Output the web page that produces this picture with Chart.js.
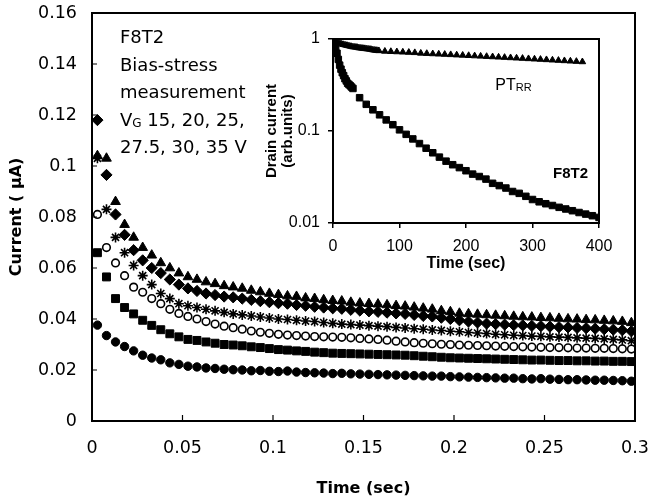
<!DOCTYPE html>
<html lang="en">
  <head>
    <meta charset="utf-8" />
    <title>F8T2 bias-stress measurement</title>
    <style>
      * {
        margin: 0;
        padding: 0;
      }
      body {
        background: #fff;
        width: 650px;
        height: 501px;
        overflow: hidden;
      }
      .wrap {
        position: relative;
        width: 650px;
        height: 501px;
      }
      #mainChart {
        position: absolute;
        left: 0;
        top: 0;
      }
      #insetChart {
        position: absolute;
        left: 250px;
        top: 20px;
      }
    </style>
  </head>
  <body>
    <div class="wrap">
      <canvas id="mainChart" width="650" height="501"></canvas>
      <canvas id="insetChart" width="380" height="260"></canvas>
    </div>

    <script src="https://cdn.jsdelivr.net/npm/chart.js"></script>

    <script>
      // main plot: time axis (sec)
      const times = [
        0.003, 0.008, 0.013, 0.018, 0.023, 0.028, 0.033, 0.038, 0.043, 0.048,
        0.053, 0.058, 0.063, 0.068, 0.073, 0.078, 0.083, 0.088, 0.093, 0.098,
        0.103, 0.108, 0.113, 0.118, 0.123, 0.128, 0.133, 0.138, 0.143, 0.148,
        0.153, 0.158, 0.163, 0.168, 0.173, 0.178, 0.183, 0.188, 0.193, 0.198,
        0.203, 0.208, 0.213, 0.218, 0.223, 0.228, 0.233, 0.238, 0.243, 0.248,
        0.253, 0.258, 0.263, 0.268, 0.273, 0.278, 0.283, 0.288, 0.293, 0.298,
      ];

      // current (uA) for each gate voltage
      const vg15 = [
        0.0376, 0.0335, 0.031, 0.0292, 0.0275, 0.0258, 0.0247, 0.024, 0.0228, 0.0222,
        0.0215, 0.0212, 0.0208, 0.0206, 0.0203, 0.0201, 0.02, 0.0197, 0.0198, 0.0195,
        0.0194, 0.0196, 0.0192, 0.019, 0.0189, 0.0188, 0.0186, 0.0187, 0.0185, 0.0184,
        0.0183, 0.0182, 0.0181, 0.018, 0.0179, 0.0178, 0.0177, 0.0176, 0.0176, 0.0174,
        0.0173, 0.0172, 0.0171, 0.017, 0.0169, 0.0168, 0.0168, 0.0166, 0.0165, 0.0166,
        0.0164, 0.0163, 0.0162, 0.0162, 0.0161, 0.016, 0.016, 0.0159, 0.0158, 0.0156,
      ];
      const vg20 = [
        0.066, 0.0565, 0.048, 0.0445, 0.042, 0.0395, 0.0375, 0.0358, 0.0342, 0.033,
        0.032, 0.0316, 0.031, 0.0305, 0.03, 0.0298, 0.0295, 0.0291, 0.0288, 0.0284,
        0.028, 0.0278, 0.0275, 0.0273, 0.027, 0.0268, 0.0266, 0.0265, 0.0264, 0.0263,
        0.0262, 0.0261, 0.026, 0.0259, 0.0258, 0.0256, 0.0254, 0.0252, 0.025, 0.0248,
        0.0247, 0.0246, 0.0245, 0.0244, 0.0243, 0.0242, 0.0241, 0.024, 0.0239, 0.0239,
        0.0238, 0.0237, 0.0237, 0.0236, 0.0236, 0.0235, 0.0235, 0.0234, 0.0234, 0.0233,
      ];
      const vg25 = [
        0.081, 0.068, 0.062, 0.057, 0.0525, 0.0505, 0.048, 0.046, 0.0438, 0.0422,
        0.041, 0.04, 0.039, 0.038, 0.0372, 0.0366, 0.036, 0.0353, 0.0348, 0.0344,
        0.034, 0.0337, 0.0335, 0.0333, 0.0331, 0.033, 0.0329, 0.0328, 0.0326, 0.0324,
        0.0322, 0.032, 0.0317, 0.0313, 0.031, 0.0307, 0.0305, 0.0303, 0.0301, 0.03,
        0.0298, 0.0297, 0.0296, 0.0295, 0.0294, 0.0293, 0.0292, 0.0291, 0.029, 0.0289,
        0.0288, 0.0288, 0.0287, 0.0286, 0.0286, 0.0285, 0.0285, 0.0284, 0.0283, 0.0282,
      ];
      const vg275 = [
        0.103, 0.083, 0.072, 0.066, 0.061, 0.057, 0.0535, 0.05, 0.048, 0.046,
        0.0452, 0.0445, 0.0438, 0.0432, 0.0426, 0.042, 0.0416, 0.0412, 0.0408, 0.0404,
        0.04, 0.0398, 0.0395, 0.0392, 0.039, 0.0386, 0.0383, 0.038, 0.0378, 0.0376,
        0.0374, 0.0372, 0.037, 0.0367, 0.0365, 0.0362, 0.036, 0.0357, 0.0355, 0.0352,
        0.035, 0.0347, 0.0345, 0.0343, 0.034, 0.0338, 0.0336, 0.0335, 0.0333, 0.0332,
        0.033, 0.0329, 0.0328, 0.0326, 0.0325, 0.0324, 0.0322, 0.032, 0.0318, 0.0315,
      ];
      const vg30 = [
        0.118, 0.0965, 0.081, 0.073, 0.067, 0.063, 0.06, 0.058, 0.0555, 0.0535,
        0.052, 0.051, 0.05, 0.0494, 0.0488, 0.0485, 0.048, 0.0475, 0.047, 0.0466,
        0.0462, 0.046, 0.0455, 0.0452, 0.0448, 0.0445, 0.0442, 0.044, 0.0436, 0.0433,
        0.043, 0.0428, 0.0425, 0.0422, 0.042, 0.0416, 0.0412, 0.041, 0.0405, 0.04,
        0.0395, 0.039, 0.0386, 0.0382, 0.038, 0.0378, 0.0376, 0.0375, 0.0373, 0.0372,
        0.037, 0.0368, 0.0367, 0.0365, 0.0364, 0.0362, 0.036, 0.0358, 0.0356, 0.0352,
      ];
      const vg35 = [
        0.104, 0.103, 0.086, 0.077, 0.072, 0.068, 0.065, 0.062, 0.06, 0.058,
        0.0565, 0.0555, 0.0545, 0.0538, 0.053, 0.0525, 0.052, 0.0512, 0.0506, 0.05,
        0.0495, 0.049, 0.0488, 0.0482, 0.048, 0.0475, 0.0472, 0.047, 0.0465, 0.0462,
        0.046, 0.0458, 0.0455, 0.0452, 0.045, 0.0446, 0.0442, 0.0438, 0.0432, 0.0428,
        0.0422, 0.042, 0.0418, 0.0416, 0.0414, 0.0412, 0.041, 0.0408, 0.0407, 0.0405,
        0.0404, 0.0402, 0.04, 0.0399, 0.0397, 0.0396, 0.0394, 0.0392, 0.039, 0.0385,
      ];

      const xTickVals = [0, 0.05, 0.1, 0.15, 0.2, 0.25, 0.3];
      const xTickLabels = ["0", "0.05", "0.1", "0.15", "0.2", "0.25", "0.3"];
      const yTickVals = [0, 0.02, 0.04, 0.06, 0.08, 0.1, 0.12, 0.14, 0.16];
      const yTickLabels = ["0", "0.02", "0.04", "0.06", "0.08", "0.1", "0.12", "0.14", "0.16"];

      // inset: normalised drain current vs time (sec)
      const f8t2Times = [
        0, 2, 4, 6, 8, 10, 12, 14, 16, 18, 20, 22, 24, 26, 28, 30,
        40, 50, 60, 70, 80, 90, 100, 110, 120, 130, 140, 150, 160, 170, 180, 190, 200,
        210, 220, 230, 240, 250, 260, 270, 280, 290, 300, 310, 320, 330, 340, 350, 360,
        370, 380, 390, 400,
      ];
      const f8t2Vals = [
        1.0, 0.88, 0.78, 0.7, 0.6, 0.52, 0.47, 0.43, 0.4, 0.37, 0.35, 0.33, 0.32, 0.31, 0.3, 0.29,
        0.23, 0.195, 0.17, 0.15, 0.132, 0.117, 0.103, 0.092, 0.082, 0.073, 0.065, 0.058, 0.052, 0.047, 0.043, 0.04, 0.037,
        0.034, 0.032, 0.03, 0.027, 0.0255, 0.024, 0.022, 0.021, 0.0195, 0.018, 0.017, 0.0162, 0.0155, 0.0148, 0.0142, 0.0136,
        0.013, 0.0125, 0.012, 0.0115,
      ];
      const ptTimes = [
        0, 3, 6, 9, 12, 15, 18, 21, 24, 27, 30, 33, 36, 39, 42, 45, 48, 51, 54, 57, 60, 63, 66, 69,
        78, 87, 96, 105, 114, 123, 132, 141, 150, 159, 168, 177, 186, 195, 204, 213, 222, 231,
        240, 249, 258, 267, 276, 285, 294, 303, 312, 321, 330, 339, 348, 357, 366, 375,
      ];
      const ptVals = [
        1.0, 0.95, 0.92, 0.9, 0.885, 0.87, 0.86, 0.85, 0.84, 0.83, 0.82, 0.815, 0.81, 0.8, 0.795, 0.79,
        0.785, 0.78, 0.775, 0.77, 0.76, 0.755, 0.75, 0.745,
        0.735, 0.73, 0.725, 0.72, 0.715, 0.71, 0.7, 0.695, 0.69, 0.685, 0.68, 0.675, 0.67, 0.665, 0.66, 0.655, 0.65, 0.645,
        0.64, 0.635, 0.63, 0.625, 0.62, 0.615, 0.61, 0.605, 0.6, 0.595, 0.59, 0.585, 0.58, 0.575, 0.57, 0.565,
      ];
      const insetXTickVals = [0, 100, 200, 300, 400];
      const insetXTickLabels = ["0", "100", "200", "300", "400"];
      const insetYTickVals = [0.01, 0.1, 1];
      const insetYTickLabels = ["0.01", "0.1", "1"];

      Chart.defaults.color = "#000";
      Chart.defaults.font.family = "'DejaVu Sans', sans-serif";

      const toPoints = (xs, ys) => xs.map((x, i) => ({ x, y: ys[i] }));

      // keep the plot box where layout.padding puts it
      const noLabelPadding = (scale) => {
        scale.paddingLeft = 0;
        scale.paddingRight = 0;
        scale.paddingTop = 0;
        scale.paddingBottom = 0;
      };

      // marker for each series
      const markers = [
        { values: vg15, pointStyle: "circle", radius: 4.2, fill: "#000", border: 1 },
        { values: vg20, pointStyle: "rect", radius: 5.6, fill: "#000", border: 1 },
        { values: vg25, pointStyle: "circle", radius: 3.8, fill: "#fff", border: 1.6 },
        { values: vg275, pointStyle: "star", radius: 5, fill: "#000", border: 1.6 },
        { values: vg30, pointStyle: "rectRot", radius: 5.6, fill: "#000", border: 1 },
        { values: vg35, pointStyle: "triangle", radius: 5.6, fill: "#000", border: 1 },
      ];

      // frame, inward ticks and the text block
      const mainFrame = {
        id: "mainFrame",
        afterDatasetsDraw(chart) {
          const {
            ctx,
            chartArea: { left, right, top, bottom },
            scales: { x, y },
          } = chart;
          ctx.save();
          ctx.strokeStyle = "#000";
          ctx.lineWidth = 2;
          ctx.strokeRect(left, top, right - left, bottom - top);
          ctx.lineWidth = 1.2;
          ctx.beginPath();
          yTickVals.forEach((v) => {
            const py = y.getPixelForValue(v);
            ctx.moveTo(left, py);
            ctx.lineTo(left + 5, py);
          });
          xTickVals.forEach((v) => {
            const px = x.getPixelForValue(v);
            ctx.moveTo(px, bottom);
            ctx.lineTo(px, bottom - 6);
          });
          ctx.stroke();

          ctx.fillStyle = "#000";
          ctx.textBaseline = "alphabetic";
          ctx.textAlign = "left";
          const big = "18px 'DejaVu Sans'";
          const tx = left + 28;
          ctx.font = big;
          ctx.fillText("F8T2", tx, top + 30);
          ctx.fillText("Bias-stress", tx, top + 57.5);
          ctx.fillText("measurement", tx, top + 85);
          ctx.fillText("V", tx, top + 112.5);
          let w = ctx.measureText("V").width;
          ctx.font = "12px 'DejaVu Sans'";
          ctx.fillText("G", tx + w, top + 113.5);
          w += ctx.measureText("G").width;
          ctx.font = big;
          ctx.fillText(" 15, 20, 25,", tx + w, top + 112.5);
          ctx.fillText("27.5, 30, 35 V", tx, top + 140);
          ctx.restore();
        },
      };

      const mainConfig = {
        type: "scatter",
        data: {
          datasets: markers.map((m) => ({
            data: toPoints(times, m.values),
            pointStyle: m.pointStyle,
            pointRadius: m.radius,
            backgroundColor: m.fill,
            borderColor: "#000",
            pointBorderWidth: m.border,
          })),
        },
        options: {
          responsive: false,
          animation: false,
          events: [],
          layout: { padding: { left: 0, top: 13, right: 15, bottom: 0 } },
          plugins: { legend: { display: false }, tooltip: { enabled: false } },
          scales: {
            x: {
              type: "linear",
              min: 0,
              max: 0.3,
              afterBuildTicks: (scale) => {
                scale.ticks = xTickVals.map((v) => ({ value: v }));
              },
              afterFit: (scale) => {
                scale.height = 80;
                noLabelPadding(scale);
              },
              grid: { display: false, drawTicks: false },
              border: { display: false },
              ticks: {
                autoSkip: false,
                maxRotation: 0,
                padding: 17,
                font: { size: 17.5 },
                callback: (v, i) => xTickLabels[i],
              },
              title: {
                display: true,
                text: "Time (sec)",
                font: { size: 16, weight: "bold" },
                padding: { top: 0, bottom: 3 },
              },
            },
            y: {
              type: "linear",
              min: 0,
              max: 0.16,
              afterBuildTicks: (scale) => {
                scale.ticks = yTickVals.map((v) => ({ value: v }));
              },
              afterFit: (scale) => {
                scale.width = 92;
                noLabelPadding(scale);
              },
              grid: { display: false, drawTicks: false },
              border: { display: false },
              ticks: {
                autoSkip: false,
                padding: 15,
                font: { size: 17.5 },
                callback: (v, i) => yTickLabels[i],
              },
              title: {
                display: true,
                text: "Current ( \u03bcA)",
                font: { size: 16, weight: "bold" },
                padding: { top: 7, bottom: 0 },
              },
            },
          },
        },
        plugins: [mainFrame],
      };

      new Chart(document.getElementById("mainChart"), mainConfig);

      // inset frame and curve labels
      const insetFrame = {
        id: "insetFrame",
        afterDatasetsDraw(chart) {
          const {
            ctx,
            chartArea: { left, right, top, bottom },
            scales: { x, y },
          } = chart;
          ctx.save();
          ctx.strokeStyle = "#000";
          ctx.lineWidth = 2;
          ctx.strokeRect(left, top, right - left, bottom - top);
          ctx.fillStyle = "#000";
          ctx.textAlign = "left";
          ctx.textBaseline = "alphabetic";
          const px = x.getPixelForValue(244);
          const py = y.getPixelForValue(0.28);
          ctx.font = "16px 'Liberation Sans'";
          ctx.fillText("PT", px, py);
          const w = ctx.measureText("PT").width;
          ctx.font = "11px 'Liberation Sans'";
          ctx.fillText("RR", px + w, py + 1);
          ctx.font = "bold 15px 'Liberation Sans'";
          ctx.fillText("F8T2", x.getPixelForValue(331), y.getPixelForValue(0.031));
          ctx.restore();
        },
      };

      const insetFont = "'Liberation Sans', Arial, sans-serif";
      const insetConfig = {
        type: "scatter",
        data: {
          datasets: [
            {
              data: toPoints(ptTimes, ptVals),
              pointStyle: "triangle",
              pointRadius: 3.8,
              backgroundColor: "#000",
              borderColor: "#000",
              pointBorderWidth: 1,
            },
            {
              data: toPoints(f8t2Times, f8t2Vals),
              pointStyle: "rect",
              pointRadius: 4.6,
              backgroundColor: "#000",
              borderColor: "#000",
              pointBorderWidth: 1,
            },
          ],
        },
        options: {
          responsive: false,
          animation: false,
          events: [],
          layout: { padding: { left: 0, top: 19, right: 31, bottom: 0 } },
          plugins: { legend: { display: false }, tooltip: { enabled: false } },
          scales: {
            x: {
              type: "linear",
              min: 0,
              max: 400,
              afterBuildTicks: (scale) => {
                scale.ticks = insetXTickVals.map((v) => ({ value: v }));
              },
              afterFit: (scale) => {
                scale.height = 57;
                noLabelPadding(scale);
              },
              grid: {
                display: true,
                drawOnChartArea: false,
                drawTicks: true,
                tickLength: 5,
                color: "#000",
                lineWidth: 1.5,
              },
              border: { display: false },
              ticks: {
                autoSkip: false,
                maxRotation: 0,
                padding: 9,
                font: { family: insetFont, size: 16 },
                callback: (v, i) => insetXTickLabels[i],
              },
              title: {
                display: true,
                text: "Time (sec)",
                font: { family: insetFont, size: 16, weight: "bold" },
                padding: { top: 0, bottom: 7 },
              },
            },
            y: {
              type: "logarithmic",
              min: 0.01,
              max: 1,
              afterBuildTicks: (scale) => {
                scale.ticks = insetYTickVals.map((v) => ({ value: v }));
              },
              afterFit: (scale) => {
                scale.width = 83;
                noLabelPadding(scale);
              },
              grid: {
                display: true,
                drawOnChartArea: false,
                drawTicks: true,
                tickLength: 5,
                color: "#000",
                lineWidth: 1.5,
              },
              border: { display: false },
              ticks: {
                autoSkip: false,
                padding: 8,
                font: { family: insetFont, size: 16 },
                callback: (v, i) => insetYTickLabels[i],
              },
              title: {
                display: true,
                text: ["Drain current", "(arb.units)"],
                font: { family: insetFont, size: 15, weight: "bold", lineHeight: 1.05 },
                padding: { top: 14, bottom: 0 },
              },
            },
          },
        },
        plugins: [insetFrame],
      };

      new Chart(document.getElementById("insetChart"), insetConfig);
    </script>
  </body>
</html>
